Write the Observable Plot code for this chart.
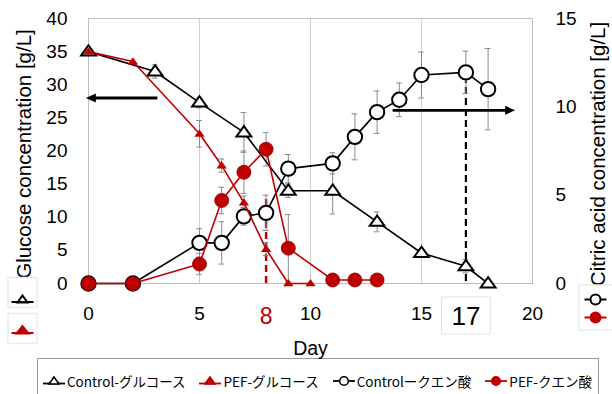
<!DOCTYPE html>
<html>
<head>
<meta charset="utf-8">
<script src="https://cdn.jsdelivr.net/npm/d3@7"></script>
<script src="https://cdn.jsdelivr.net/npm/@observablehq/plot@0.6"></script>
<style>
  html, body { margin: 0; padding: 0; background: #fff; overflow: hidden; }
  #wrap { width: 612px; height: 394px; overflow: hidden; font-family: "Liberation Sans", Arial, sans-serif; }
  #legend { margin-left: 37px; width: 562px; height: 40px; border: 1px solid #999; box-sizing: border-box;
    display: flex; align-items: flex-start; justify-content: space-between; padding: 13px 6px 0 4px;
    font-family: "Noto Sans CJK JP", "Noto Sans", sans-serif; font-size: 13.5px; line-height: 18px; color: #000; }
  #legend .item { display: flex; align-items: center; white-space: nowrap; }
  #legend svg { display: block; margin-right: 1px; }
</style>
</head>
<body>
<div id="wrap"><div id="chart"></div><div id="legend"></div></div>
<script>
// ---- data ----
const ctrlGlucDay = [0, 3, 5, 7, 9, 11, 13, 15, 17, 18];
const ctrlGluc    = [35, 32, 27.3, 22.8, 14, 14, 9.3, 4.6, 2.6, 0];
const ctrlGlucErr = [0, 1, 0.8, 3, 1, 3.5, 1.5, 0.5, 1, 0];

const pefGlucDay = [0, 2, 5, 6, 7, 8, 9, 10];
const pefGluc    = [35, 33.5, 22.6, 17.8, 12.2, 5.2, 0, 0];
const pefGlucErr = [0, 0, 2, 1, 1, 1, 0, 0];

const ctrlCitDay = [0, 2, 5, 6, 7, 8, 9, 11, 12, 13, 14, 15, 17, 18];
const ctrlCit    = [0, 0, 2.3, 2.3, 3.8, 4.0, 6.5, 6.8, 8.3, 9.7, 10.4, 11.8, 11.95, 11.0];
const ctrlCitErr = [0, 0, 0.8, 1.2, 0.5, 1.0, 0.8, 0.6, 1.3, 1.2, 0.95, 1.3, 1.2, 2.3];

const pefCitDay = [0, 2, 5, 6, 7, 8, 9, 11, 12, 13];
const pefCit    = [0, 0, 1.1, 4.7, 6.3, 7.6, 2.0, 0.2, 0.2, 0.2];
const pefCitErr = [0, 0, 0.6, 0.75, 1.2, 0.95, 1.9, 0, 0, 0];

const xTicks = [0, 5, 10, 15, 20];
const yLeftTicks = [0, 5, 10, 15, 20, 25, 30, 35, 40];
const yRightTicks = [0, 5, 10, 15];
const gridDays = [5, 10, 15];
const markDayPEF = 8;
const markDayCtrl = 17;
// arrows: fromDay -> toDay at a level on the given axis
const arrowLeft  = {from: 3.1, to: 0.15, level: 28, axis: "left"};
const arrowRight = {from: 13.7, to: 18.95, level: 9.8, axis: "right"};
const legendLabels = ["Control-グルコース", "PEF-グルコース", "Controlークエン酸", "PEF-クエン酸"];

// ---- helpers ----
const K = 40 / 15; // right axis (citric acid) -> left axis units
const RED = "#c00000";
const toRows = (days, vals, errs, scale = 1) =>
  days.map((d, i) => ({x: d, y: vals[i] * scale, lo: (vals[i] - errs[i]) * scale, hi: (vals[i] + errs[i]) * scale, e: errs[i]}));

const cG = toRows(ctrlGlucDay, ctrlGluc, ctrlGlucErr);
const pG = toRows(pefGlucDay, pefGluc, pefGlucErr);
const cC = toRows(ctrlCitDay, ctrlCit, ctrlCitErr, K);
const pC = toRows(pefCitDay, pefCit, pefCitErr, K);
const allErr = [...cG, ...pG, ...cC, ...pC].filter(d => d.e > 0);

const arrowRow = a => ({x1: a.from, x2: a.to, y: a.axis === "right" ? a.level * K : a.level});
const arrows = [arrowRow(arrowLeft), arrowRow(arrowRight)];

const openTri = {draw(c) { const h = 6.4; c.moveTo(0, -h); c.lineTo(7.4, h * 0.62); c.lineTo(-7.4, h * 0.62); c.closePath(); }};
const fillTri = {draw(c) { const h = 4.4; c.moveTo(0, -h); c.lineTo(5.2, h * 0.65); c.lineTo(-5.2, h * 0.65); c.closePath(); }};
const headL = {draw(c) { c.moveTo(-6, 0); c.lineTo(4, -4.5); c.lineTo(4, 4.5); c.closePath(); }};
const headR = {draw(c) { c.moveTo(6, 0); c.lineTo(-4, -4.5); c.lineTo(-4, 4.5); c.closePath(); }};
const box17 = {draw(c) { c.rect(-24.5, -18.5, 49, 37); }};
const keyBox = {draw(c) { c.rect(-14.5, -15, 29, 30); }};
const keyBoxR = {draw(c) { c.rect(-16.5, -22.5, 40, 45); }};
const keyTriOpen = {draw(c) { c.moveTo(-11, 2.5); c.lineTo(11, 2.5); c.moveTo(0, -4); c.lineTo(5, 3); c.lineTo(-5, 3); c.closePath(); }};
const keyTriFill = {draw(c) { c.moveTo(-11, 2.5); c.lineTo(11, 2.5); c.moveTo(0, -4.5); c.lineTo(6, 3); c.lineTo(-6, 3); c.closePath(); }};
const keyCirc = {draw(c) { c.moveTo(-11, 0); c.lineTo(-5, 0); c.moveTo(5, 0); c.lineTo(11, 0); c.moveTo(5, 0); c.arc(0, 0, 5, 0, 2 * Math.PI); }};

const font = "Liberation Sans, Arial, sans-serif";

const chart = Plot.plot({
  width: 612,
  height: 358,
  marginLeft: 88,
  marginRight: 80,
  marginTop: 18,
  marginBottom: 75,
  style: {fontFamily: font, background: "#fff", overflow: "visible"},
  x: {domain: [0, 20]},
  y: {domain: [0, 40]},
  marks: [
    Plot.gridX(gridDays, {stroke: "#cfcfcf", strokeOpacity: 1}),
    Plot.frame({stroke: "#bdbdbd"}),
    Plot.axisX(xTicks, {tickSize: 0, tickPadding: 23, fontSize: 19, label: null}),
    Plot.axisY(yLeftTicks, {tickSize: 0, tickPadding: 21, fontSize: 19, label: null}),
    Plot.axisY(yRightTicks.map(v => v * K), {anchor: "right", tickSize: 0, tickPadding: 23, fontSize: 19, label: null,
      tickFormat: d => String(Math.round(d / K))}),
    // axis titles
    Plot.text(["Glucose concentration [g/L]"], {frameAnchor: "left", textAnchor: "middle", lineAnchor: "middle", dx: -64, dy: 3, rotate: -90, fontSize: 20.5, fill: "#000"}),
    Plot.text(["Citric acid concentration [g/L]"], {frameAnchor: "right", textAnchor: "middle", lineAnchor: "middle", dx: 66, dy: 3, rotate: -90, fontSize: 20.5, fill: "#000"}),
    Plot.text(["Day"], {frameAnchor: "bottom", lineAnchor: "middle", dy: 65, fontSize: 19.5, fill: "#000"}),
    // special day labels
    Plot.text([markDayPEF], {x: d => d, frameAnchor: "bottom", lineAnchor: "middle", dy: 33, fontSize: 23, fill: RED, text: d => String(d)}),
    Plot.dot([markDayCtrl], {x: d => d, frameAnchor: "bottom", dy: 32, symbol: box17, fill: "#fff", stroke: "#e2e2e2", strokeWidth: 1}),
    Plot.text([markDayCtrl], {x: d => d, frameAnchor: "bottom", lineAnchor: "middle", dy: 33, fontSize: 26, fill: "#000", text: d => String(d)}),
    // dashed guide lines
    Plot.ruleX([pC.find(d => d.x === markDayPEF)], {x: "x", y1: 0, y2: d => d.y - 7, stroke: RED, strokeWidth: 2.5, strokeDasharray: "7,4"}),
    Plot.ruleX([cC.find(d => d.x === markDayCtrl)], {x: "x", y1: 0.3, y2: d => d.y - 1.3, stroke: "#000", strokeWidth: 2.2, strokeDasharray: "7,4"}),
    // error bars
    Plot.ruleX(allErr, {x: "x", y1: "lo", y2: "hi", stroke: "#8a8a8a", strokeWidth: 1}),
    Plot.ruleY(allErr, {y: "lo", x1: d => d.x - 0.13, x2: d => d.x + 0.13, stroke: "#8a8a8a", strokeWidth: 1}),
    Plot.ruleY(allErr, {y: "hi", x1: d => d.x - 0.13, x2: d => d.x + 0.13, stroke: "#8a8a8a", strokeWidth: 1}),
    // arrows
    Plot.link(arrows, {x1: "x1", x2: "x2", y1: "y", y2: "y", stroke: "#000", strokeWidth: 2.8}),
    Plot.dot([arrows[0]], {x: "x2", y: "y", symbol: headL, fill: "#000", stroke: "none"}),
    Plot.dot([arrows[1]], {x: "x2", y: "y", symbol: headR, fill: "#000", stroke: "none"}),
    // control series
    Plot.line(cG, {x: "x", y: "y", stroke: "#000", strokeWidth: 1.6}),
    Plot.line(cC, {x: "x", y: "y", stroke: "#000", strokeWidth: 1.6}),
    Plot.dot(cG, {x: "x", y: "y", symbol: openTri, fill: "#fff", stroke: "#000", strokeWidth: 2}),
    Plot.dot(cC, {x: "x", y: "y", r: 7.2, fill: "#fff", stroke: "#000", strokeWidth: 2}),
    // PEF series
    Plot.line(pG, {x: "x", y: "y", stroke: RED, strokeWidth: 1.6}),
    Plot.line(pC, {x: "x", y: "y", stroke: RED, strokeWidth: 1.6}),
    Plot.dot(pG, {x: "x", y: "y", symbol: fillTri, fill: RED, stroke: "none"}),
    Plot.dot(pC, {x: "x", y: "y", r: 7, fill: RED, stroke: "#8a0000", strokeWidth: 0.8}),
    // side keys
    Plot.dot([0], {frameAnchor: "bottom-left", dx: -66, dy: 9, symbol: keyBox, fill: "#fff", stroke: "#ececec"}),
    Plot.dot([0], {frameAnchor: "bottom-left", dx: -66, dy: 45, symbol: keyBox, fill: "#fff", stroke: "#ececec"}),
    Plot.dot([0], {frameAnchor: "bottom-left", dx: -66, dy: 16, symbol: keyTriOpen, fill: "#fff", stroke: "#000", strokeWidth: 2}),
    Plot.dot([0], {frameAnchor: "bottom-left", dx: -66, dy: 47, symbol: keyTriFill, fill: RED, stroke: RED, strokeWidth: 2}),
    Plot.dot([0], {frameAnchor: "bottom-right", dx: 63, dy: 24, symbol: keyBoxR, fill: "#fff", stroke: "#ececec"}),
    Plot.dot([0], {frameAnchor: "bottom-right", dx: 63, dy: 16, symbol: keyCirc, fill: "#fff", stroke: "#000", strokeWidth: 2}),
    Plot.dot([0], {frameAnchor: "bottom-right", dx: 63, dy: 34, symbol: keyCirc, fill: RED, stroke: RED, strokeWidth: 2})
  ]
});
document.getElementById("chart").appendChild(chart);

// ---- legend ----
const legendSpecs = [
  {shape: "tri", fill: "#fff", stroke: "#000"},
  {shape: "tri", fill: RED, stroke: RED},
  {shape: "circ", fill: "#fff", stroke: "#000"},
  {shape: "circ", fill: RED, stroke: RED}
];
const legend = d3.select("#legend");
legendLabels.forEach((lab, i) => {
  const s = legendSpecs[i];
  const it = legend.append("div").attr("class", "item");
  const svg = it.append("svg").attr("width", 24).attr("height", 14);
  svg.append("line").attr("x1", 1).attr("x2", 23).attr("y1", s.shape === "tri" ? 9.5 : 7).attr("y2", s.shape === "tri" ? 9.5 : 7)
    .attr("stroke", s.stroke).attr("stroke-width", 1.8);
  if (s.shape === "tri") {
    svg.append("path").attr("d", "M12,3 L17,10 L7,10 Z").attr("fill", s.fill).attr("stroke", s.stroke).attr("stroke-width", 1.6);
  } else {
    svg.append("circle").attr("cx", 12).attr("cy", 7).attr("r", 4.3).attr("fill", s.fill).attr("stroke", s.stroke).attr("stroke-width", 1.6);
  }
  it.append("span").text(lab);
});
</script>
</body>
</html>
